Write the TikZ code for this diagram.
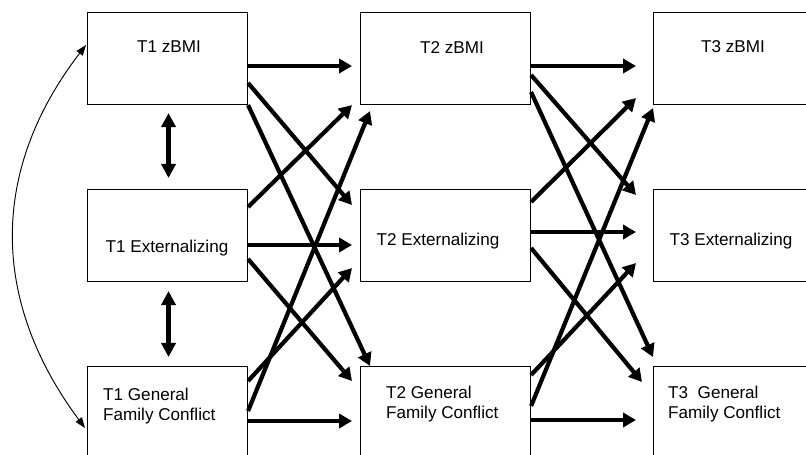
\documentclass[tikz,border=0pt]{standalone}
\usepackage{fontspec}
\setmainfont{Liberation Sans}
\usetikzlibrary{arrows.meta,calc}

\begin{document}
\begin{tikzpicture}[x=0.03cm, y=-0.03cm,
  box/.style={draw, line width=0.9pt, inner sep=0pt, anchor=north west, minimum height=2.76cm},
  lbl/.style={inner sep=0pt, font=\fontsize{14.6}{16.5}\selectfont},
  lag/.style={line width=3.6pt, -{Triangle[length=11pt,width=12pt]}},
  cov/.style={line width=3.6pt, {Triangle[length=12pt,width=12pt]}-{Triangle[length=12pt,width=12pt]}},
  thincov/.style={line width=0.8pt, {Triangle[length=9pt,width=6.5pt]}-{Triangle[length=9pt,width=6.5pt]}}]

\def\wa{4.8cm}
\def\wb{5.1cm}

\useasboundingbox (0,0) rectangle (806,455);
\clip (0,0) rectangle (806,455);

%boxes
\node[box, minimum width=\wa] (t1b) at (87,12) {};
\node[box, minimum width=\wa] (t1e) at (87,189) {};
\node[box, minimum width=\wa] (t1g) at (87,366) {};

\node[box, minimum width=\wb] (t2b) at (360,12) {};
\node[box, minimum width=\wb] (t2e) at (360,189) {};
\node[box, minimum width=\wb] (t2g) at (360,366) {};

\node[box, minimum width=\wb] (t3b) at (653,12) {};
\node[box, minimum width=\wb] (t3e) at (653,189) {};
\node[box, minimum width=\wb] (t3g) at (653,366) {};

%labels
\node[lbl, anchor=base] (t1bl) at (169,53) {T1 zBMI};
\node[lbl, anchor=base] (t2bl) at (452,54) {T2 zBMI};
\node[lbl, anchor=base] (t3bl) at (733,53) {T3 zBMI};
\node[lbl, anchor=base] (t1el) at (167,253) {T1 Externalizing};
\node[lbl, anchor=base] (t2el) at (438,246) {T2 Externalizing};
\node[lbl, anchor=base] (t3el) at (731,246) {T3 Externalizing};
\node[lbl, anchor=west, align=left] (t1gl) at (103,406) {T1 General\\Family Conflict};
\node[lbl, anchor=west, align=left] (t2gl) at (386,404) {T2 General\\Family Conflict};
\node[lbl, anchor=west, align=left] (t3gl) at (668,404) {T3\ \ General\\Family Conflict};

%T1 to T2
\draw[lag] ($(t1b.north east)+(0,54)$) -- ($(t2b.north west)+(-8,54)$);
\draw[lag] ($(t1b.north east)+(0,71)$) -- ($(t2e.north west)+(-8,16)$);
\draw[lag] (t1b.south east) -- ($(t2g.north west)+(10,0)$);
\draw[lag] ($(t1e.north east)+(0,18)$) -- ($(t2b.south west)+(-8,0)$);
\draw[lag] ($(t1e.north east)+(0,56)$) -- ($(t2e.north west)+(-8,56)$);
\draw[lag] ($(t1e.north east)+(0,70)$) -- ($(t2g.north west)+(-8,15)$);
\draw[lag] ($(t1g.north east)+(0,15)$) -- ($(t2e.south west)+(-8,-14)$);
\draw[lag] ($(t1g.north east)+(0,45)$) -- ($(t2b.south west)+(10,6)$);
\draw[lag] ($(t1g.north east)+(0,55)$) -- ($(t2g.north west)+(-8,55)$);

%T2 to T3
\draw[lag] ($(t2b.north east)+(0,54)$) -- ($(t3b.north west)+(-17,54)$);
\draw[lag] ($(t2b.north east)+(0,63)$) -- ($(t3e.north west)+(-17,6)$);
\draw[lag] ($(t2b.north east)+(0,80)$) -- ($(t3g.north west)+(0,-9)$);
\draw[lag] ($(t2e.north east)+(0,13)$) -- ($(t3b.south west)+(-17,-7)$);
\draw[lag] ($(t2e.north east)+(0,43)$) -- ($(t3e.north west)+(-17,43)$);
\draw[lag] ($(t2e.north east)+(0,59)$) -- ($(t3g.north west)+(-11,16)$);
\draw[lag] ($(t2g.north east)+(0,9)$) -- ($(t3e.south west)+(-17,-19)$);
\draw[lag] ($(t2g.north east)+(0,40)$) -- ($(t3b.south west)+(0,3)$);
\draw[lag] ($(t2g.north east)+(0,54)$) -- ($(t3g.north west)+(-17,54)$);

%covariances
\draw[cov] ($(t1b.south)+(1,8)$) -- ($(t1e.north)+(1,-11)$);
\draw[cov] ($(t1e.south)+(1,9)$) -- ($(t1g.north)+(1,-9)$);
\draw[thincov] ($(t1b.north west)+(-1,33)$) .. controls (-10,170) and (-10,300) .. ($(t1g.north west)+(-2,62)$);

\end{tikzpicture}
\end{document}
